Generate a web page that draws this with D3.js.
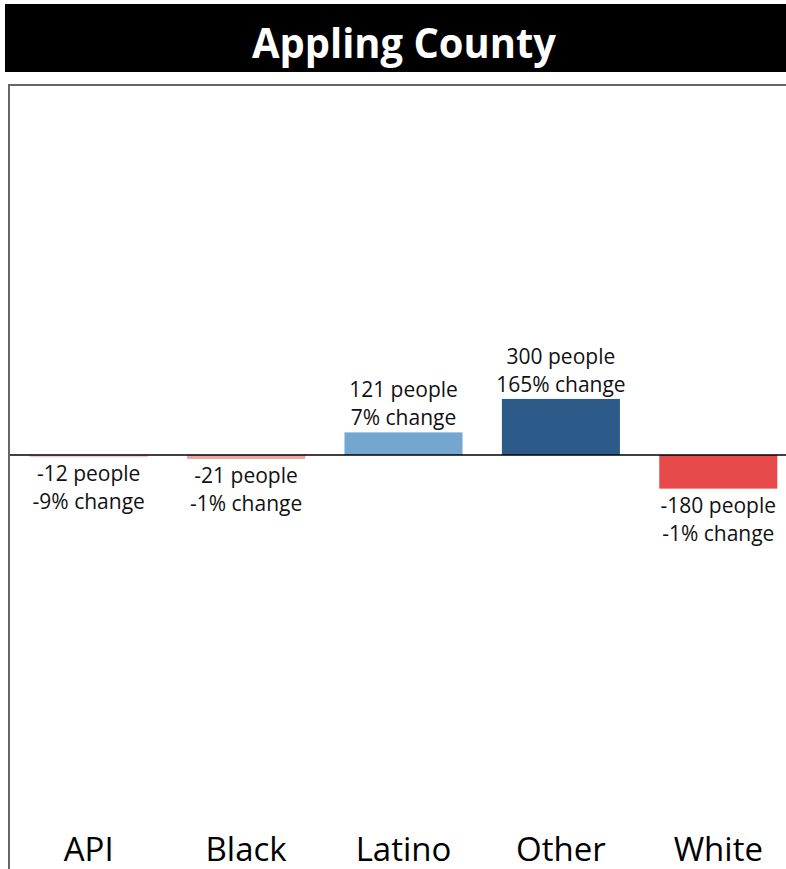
<!DOCTYPE html>
<html>
<head>
<meta charset="utf-8">
<script src="https://cdn.jsdelivr.net/npm/d3@7"></script>
<style>
  body { margin: 0; background: #fff; }
  text { font-family: "Open Sans", "Noto Sans", sans-serif; }
</style>
</head>
<body>
<div id="chart"></div>
<script>
// chart values
const title = "Appling County";
const groups = ["API", "Black", "Latino", "Other", "White"];
const peopleChange = [-12, -21, 121, 300, -180];
const pctChange = [-9, -1, 7, 165, -1];
const barColors = ["#f6c9c2", "#f2a59b", "#74a7cf", "#2d5b89", "#e8494b"];

const width = 786, height = 869;

let svg = d3.select("#chart")
    .append("svg")
    .attr("width", width)
    .attr("height", height);

// title banner
svg.append("rect")
    .attr("x", 5).attr("y", 4)
    .attr("width", width - 5).attr("height", 68)
    .attr("fill", "#000");
svg.append("text")
    .attr("x", 404).attr("y", 58)
    .attr("text-anchor", "middle")
    .attr("fill", "#fff")
    .attr("font-weight", "bold")
    .attr("font-size", 42)
    .attr("textLength", 304)
    .attr("lengthAdjust", "spacingAndGlyphs")
    .text(title);

// frame round the plot
svg.append("path")
    .attr("d", "M9," + height + "V85H" + width)
    .attr("fill", "none")
    .attr("stroke", "#666")
    .attr("stroke-width", 2);

let x = d3.scaleBand()
    .domain(groups)
    .range([10, 797])
    .paddingInner(0.25)
    .paddingOuter(0.125);

let y = d3.scaleLinear()
    .domain([-1980, 1980])
    .range([825, 85]);

let data = groups.map((g, i) => ({
    group: g, people: peopleChange[i], pct: pctChange[i], color: barColors[i]
}));

svg.selectAll("rect.bar")
    .data(data)
    .join("rect")
    .attr("class", "bar")
    .attr("x", d => x(d.group))
    .attr("width", x.bandwidth())
    .attr("y", d => y(Math.max(0, d.people)))
    .attr("height", d => Math.abs(y(d.people) - y(0)))
    .attr("fill", d => d.color);

// zero line
svg.append("line")
    .attr("x1", 10).attr("x2", width)
    .attr("y1", y(0)).attr("y2", y(0))
    .attr("stroke", "#000")
    .attr("stroke-width", 1.3);

// value labels
let labels = svg.selectAll("text.val")
    .data(data)
    .join("text")
    .attr("class", "val")
    .attr("text-anchor", "middle")
    .attr("font-size", 21)
    .attr("fill", "#111");

labels.each(function(d) {
    let cx = x(d.group) + x.bandwidth() / 2;
    let t = d3.select(this);
    let y1, y2;
    if (d.people >= 0) {
        y2 = y(d.people) - 7;
        y1 = y2 - 28;
    } else {
        y1 = y(d.people) + 24;
        y2 = y1 + 28;
    }
    t.append("tspan").attr("x", cx).attr("y", y1).text(d.people + " people");
    t.append("tspan").attr("x", cx).attr("y", y2).text(d.pct + "% change");
});

// category labels
svg.selectAll("text.cat")
    .data(groups)
    .join("text")
    .attr("class", "cat")
    .attr("x", d => x(d) + x.bandwidth() / 2)
    .attr("y", 861)
    .attr("text-anchor", "middle")
    .attr("font-size", 33)
    .attr("fill", "#000")
    .text(d => d);
</script>
</body>
</html>
